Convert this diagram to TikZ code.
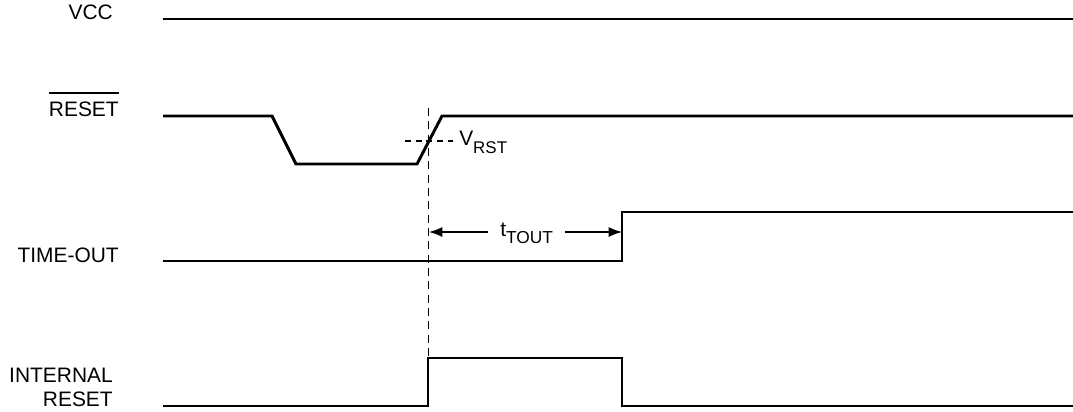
\documentclass[tikz,border=0pt]{standalone}
\usepackage{fontspec}
\setmainfont{Liberation Sans}
\usetikzlibrary{arrows.meta}
\begin{document}
\begin{tikzpicture}[x=0.75pt,y=-0.75pt,
  signal/.style={line width=2.2pt,line join=miter},
  guide/.style={line width=0.8pt,dash pattern=on 6pt off 4pt},
  arr/.style={line width=1pt,-{Latex[length=10pt,width=7.5pt]}},
  lbl/.style={inner sep=0pt,anchor=base east,font=\fontsize{15.7}{18}\selectfont}]
  \useasboundingbox (0,0) rectangle (1073,411);
  % etiquetas
  \node[lbl] (vcc) at (113,19) {VCC};
  \node[lbl] (rst) at (119,116) {RESET};
  \draw[line width=1pt] ([yshift=6pt]rst.north west) -- ([yshift=6pt]rst.north east);
  \node[lbl] (tout) at (119,262) {TIME-OUT};
  \node[lbl] (intA) at (113,382) {INTERNAL};
  \node[lbl] (intB) at (113,406) {RESET};
  % senales
  \draw[signal] (163,19) -- (1073,19);
  \draw[signal] (163,116) -- (272,116) -- (296,164) -- (417,164) -- (442,116) -- (1073,116);
  \draw[signal] (163,261) -- (622,261) -- (622,212) -- (1073,212);
  \draw[signal] (163,406) -- (428,406) -- (428,358) -- (622,358) -- (622,406) -- (1073,406);
  % umbral
  \draw[guide] (428.5,108) -- (428.5,358);
  \draw[line width=0.8pt,dash pattern=on 4.5pt off 3.5pt] (405,141) -- (453,141);
  \node[inner sep=0pt,anchor=base west,font=\fontsize{15.7}{18}\selectfont] (vrst) at (459,145)
    {V\raisebox{-6pt}{\fontsize{12.7}{14}\selectfont RST}};
  % tiempo
  \coordinate (tstart) at (429,232);
  \coordinate (tend) at (622,232);
  \node[inner xsep=9pt,inner ysep=0pt,anchor=base west,font=\fontsize{15.7}{18}\selectfont] (ttout) at (488,236)
    {t\raisebox{-5.25pt}{\fontsize{13}{15}\selectfont TOUT}};
  \draw[arr] (ttout.west |- tstart) -- (tstart);
  \draw[arr] (ttout.east |- tend) -- (tend);
\end{tikzpicture}
\end{document}
